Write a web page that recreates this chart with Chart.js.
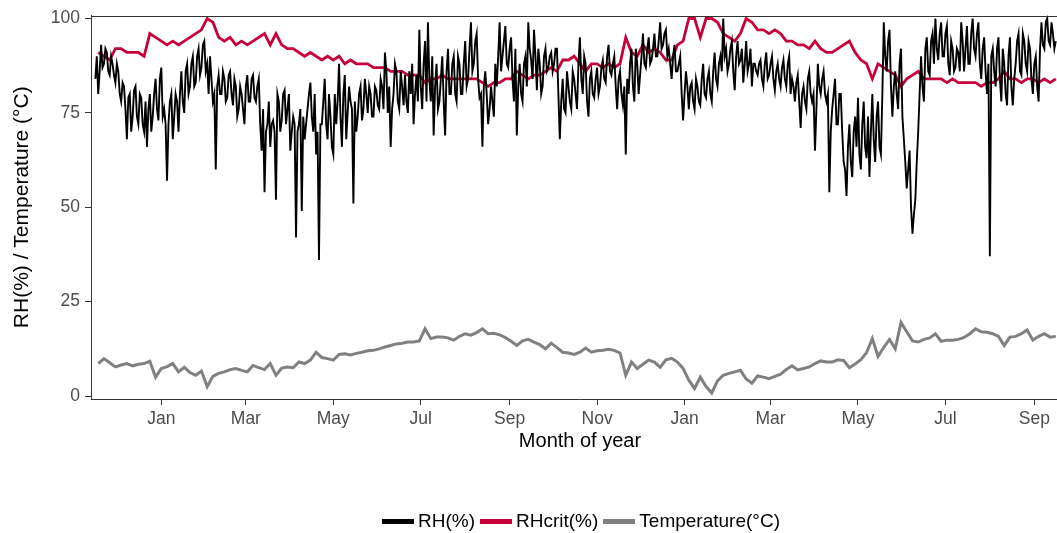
<!DOCTYPE html>
<html><head><meta charset="utf-8">
<script src="https://cdn.jsdelivr.net/npm/chart.js@4.4.1/dist/chart.umd.min.js"></script>
<style>
html,body{margin:0;padding:0;background:#fff;overflow:hidden;width:1057px;height:533px;}
#wrap{position:absolute;left:0;top:0;width:1072px;height:533px;}
#legend{position:absolute;left:382px;top:510px;height:22px;display:flex;align-items:center;font-family:'Liberation Sans',Arial,sans-serif;font-size:19px;color:#000;white-space:nowrap;}
.sw{display:inline-block;width:32px;height:5px;margin-right:4px;}
.it{display:flex;align-items:center;margin-right:5px;}
</style></head><body>
<div id="wrap"><canvas id="c" width="1072" height="533"></canvas></div>
<div id="legend"></div>
<script>
// x = days since 1 Jan 2019
// RH read at even days (from day -46) and odd days (from day -45)
const rhEvenStart = -46, rhOddStart = -45, rhStep = 2;
const rhEvenValues = [
  84, 80, 93, 88, 91, 85, 88, 83, 86, 78,
  82, 68, 80, 74, 82, 72, 79, 70, 66, 80,
  74, 84, 73, 87, 76, 57, 78, 68, 80, 70,
  86, 75, 88, 82, 90, 83, 92, 87, 94, 88,
  90, 78, 60, 85, 80, 84, 79, 86, 77, 82,
  76, 80, 72, 85, 78, 85, 78, 84, 65, 54,
  72, 66, 73, 52, 78, 73, 81, 76, 65, 74,
  42, 72, 49, 68, 76, 83, 70, 64, 36, 72,
  84, 68, 74, 64, 72, 88, 66, 85, 75, 78,
  51, 70, 80, 73, 84, 75, 80, 74, 81, 76,
  82, 91, 75, 66, 80, 86, 76, 82, 85, 75,
  80, 72, 85, 97, 76, 94, 99, 78, 69, 88,
  78, 90, 69, 92, 80, 90, 78, 88, 80, 94,
  84, 99, 88, 96, 79, 66, 86, 72, 82, 74,
  82, 99, 90, 98, 87, 95, 78, 69, 88, 78,
  90, 99, 89, 97, 81, 88, 82, 92, 87, 91,
  88, 92, 68, 84, 75, 82, 76, 84, 76, 95,
  80, 88, 74, 86, 79, 87, 82, 89, 83, 93,
  85, 90, 76, 86, 77, 64, 80, 92, 78, 88,
  85, 96, 87, 95, 89, 96, 90, 99, 93, 97,
  92, 84, 93, 86, 90, 73, 86, 76, 83, 76,
  82, 77, 88, 79, 86, 78, 91, 82, 90, 100,
  92, 88, 94, 81, 94, 89, 83, 94, 88, 82,
  88, 85, 89, 82, 91, 85, 90, 81, 88, 82,
  89, 82, 90, 84, 78, 85, 71, 82, 76, 86,
  78, 65, 88, 80, 86, 78, 54, 76, 84, 72,
  80, 62, 53, 72, 58, 74, 79, 60, 78, 63,
  58, 80, 62, 78, 64, 99, 86, 97, 74, 86,
  76, 92, 68, 55, 65, 43, 52, 70, 90, 78,
  95, 85, 96, 100, 89, 99, 90, 98, 85, 92,
  87, 91, 99, 86, 98, 88, 100, 90, 99, 84,
  95, 80, 37, 92, 82, 95, 78, 88, 77, 95,
  77, 88, 96, 85, 94, 86, 92, 80, 90, 78,
  99, 92, 100, 93, 96, 94
];
const rhOddValues = [
  90, 86, 87, 92, 86, 90, 85, 88, 80, 83,
  76, 79, 70, 81, 74, 80, 72, 78, 76, 70,
  80, 76, 84, 74, 72, 72, 80, 74, 78, 80,
  78, 86, 80, 88, 82, 90, 85, 93, 86, 80,
  84, 80, 82, 80, 86, 78, 85, 80, 84, 74,
  82, 76, 82, 78, 84, 79, 82, 72, 76, 70,
  78, 72, 70, 80, 70, 80, 72, 80, 70, 72,
  70, 76, 74, 72, 80, 74, 80, 70, 72, 78,
  72, 80, 66, 80, 78, 74, 80, 68, 82, 76,
  78, 74, 82, 76, 80, 82, 74, 82, 77, 84,
  76, 86, 82, 76, 88, 78, 86, 77, 78, 86,
  88, 80, 78, 82, 88, 78, 84, 90, 82, 76,
  84, 78, 86, 80, 88, 80, 90, 80, 88, 82,
  92, 86, 94, 84, 80, 82, 80, 76, 78, 88,
  90, 86, 94, 88, 92, 84, 92, 82, 80, 88,
  82, 92, 84, 90, 92, 80, 90, 86, 90, 86,
  92, 80, 78, 76, 86, 78, 86, 80, 88, 84,
  90, 78, 84, 80, 84, 80, 87, 84, 90, 86,
  88, 82, 84, 80, 82, 84, 88, 82, 92, 80,
  90, 88, 92, 88, 92, 90, 94, 92, 96, 90,
  88, 90, 86, 88, 80, 80, 82, 82, 78, 84,
  78, 84, 80, 84, 80, 86, 84, 88, 86, 90,
  86, 92, 86, 90, 88, 92, 88, 86, 92, 88,
  86, 88, 84, 88, 84, 88, 84, 86, 84, 87,
  84, 88, 80, 82, 83, 78, 80, 78, 84, 80,
  80, 76, 82, 84, 80, 80, 70, 80, 72, 80,
  70, 60, 66, 62, 70, 66, 64, 72, 66, 74,
  70, 68, 74, 66, 80, 90, 94, 82, 82, 80,
  88, 74, 62, 60, 50, 48, 62, 80, 82, 92,
  86, 94, 88, 92, 96, 90, 96, 88, 94, 86,
  92, 86, 94, 92, 88, 96, 92, 96, 88, 92,
  86, 88, 90, 86, 92, 84, 92, 80, 90, 82,
  84, 94, 86, 96, 88, 94, 84, 88, 82, 92,
  93, 99, 94, 99, 92
];
const critStartDay = -44, critStep = 4;
const rhCritValues = [
  91, 90, 89, 92, 92, 91, 91, 91, 90, 96,
  95, 94, 93, 94, 93, 94, 95, 96, 97, 100,
  99, 95, 94, 95, 93, 94, 93, 94, 95, 96,
  93, 96, 93, 92, 92, 91, 90, 91, 90, 89,
  90, 89, 90, 88, 89, 88, 88, 88, 87, 87,
  87, 86, 86, 86, 85, 85, 85, 83, 84, 84,
  85, 84, 84, 84, 84, 84, 84, 83, 82, 83,
  83, 84, 84, 86, 85, 84, 85, 85, 86, 87,
  86, 89, 89, 90, 88, 86, 88, 88, 87, 88,
  87, 88, 95, 91, 90, 93, 91, 92, 91, 89,
  89, 93, 94, 100, 100, 95, 100, 100, 99, 96,
  95, 94, 96, 100, 99, 97, 97, 96, 97, 96,
  94, 94, 93, 93, 92, 94, 92, 91, 91, 92,
  93, 94, 91, 89, 88, 84, 88, 87, 86, 85,
  82, 84, 85, 86, 84, 84, 84, 84, 83, 84,
  83, 83, 83, 83, 82, 83, 83, 84, 86, 84,
  84, 83, 84, 84, 83, 84, 83, 84
];
const tempStartDay = -44, tempStep = 4;
const tempValues = [
  8.6, 9.9, 8.8, 7.7, 8.2, 8.6, 8.0, 8.4, 8.6, 9.2,
  5.0, 7.3, 7.8, 8.6, 6.4, 7.6, 6.2, 5.5, 6.6, 2.5,
  5.2, 6.0, 6.4, 7.0, 7.3, 6.8, 6.4, 8.1, 7.5, 7.0,
  8.6, 5.5, 7.4, 7.7, 7.5, 9.0, 8.6, 9.5, 11.6, 10.2,
  9.9, 9.5, 11.0, 11.2, 10.9, 11.3, 11.6, 12.0, 12.1, 12.5,
  13.0, 13.4, 13.8, 14.0, 14.3, 14.3, 14.6, 17.8, 15.2, 15.6,
  15.6, 15.4, 14.8, 15.8, 16.5, 16.1, 16.8, 17.8, 16.5, 16.6,
  16.2, 15.5, 14.5, 13.4, 14.6, 15.0, 14.3, 13.6, 12.5, 14.0,
  12.8, 11.6, 11.4, 11.0, 11.6, 12.7, 11.6, 12.0, 12.1, 12.4,
  12.1, 11.4, 5.5, 9.0, 7.3, 8.4, 9.5, 9.0, 7.6, 9.6,
  10.0, 9.0, 7.3, 4.2, 2.0, 5.0, 2.5, 0.8, 4.0, 5.5,
  6.0, 6.4, 6.8, 4.5, 3.4, 5.3, 5.0, 4.6, 5.2, 5.8,
  7.0, 8.0, 6.9, 7.3, 7.7, 8.6, 9.3, 9.0, 9.0, 9.6,
  9.4, 7.5, 8.5, 9.6, 11.5, 15.2, 10.5, 12.9, 15.0, 12.5,
  19.5, 17.0, 14.6, 14.3, 15.0, 15.4, 16.5, 14.5, 14.8, 14.8,
  15.0, 15.5, 16.5, 17.8, 17.0, 16.9, 16.5, 15.8, 13.4, 15.6,
  15.8, 16.5, 17.5, 14.8, 15.8, 16.5, 15.6, 15.8
];
const tickDays = [0, 59, 120, 181, 243, 304, 365, 425, 486, 547, 609];
const tickLabels = ['Jan', 'Mar', 'May', 'Jul', 'Sep', 'Nov', 'Jan', 'Mar', 'May', 'Jul', 'Sep'];
const yTicks = [0, 25, 50, 75, 100];
const seriesNames = ['RH(%)', 'RHcrit(%)', 'Temperature(°C)'];
const seriesColors = ['#000000', '#c8003a', '#808080'];

function toPoints(start, step, vals) { return vals.map((v, i) => ({ x: start + i * step, y: v })); }
const rhPoints = toPoints(rhEvenStart, rhStep, rhEvenValues)
  .concat(toPoints(rhOddStart, rhStep, rhOddValues))
  .sort((a, b) => a.x - b.x);

const FONT = "'Liberation Sans', Arial, sans-serif";

const topBorder = {
  id: 'topBorder',
  afterDraw(chart) {
    const { ctx, chartArea: a } = chart;
    ctx.save();
    ctx.strokeStyle = '#333333';
    ctx.lineWidth = 1;
    ctx.beginPath();
    ctx.moveTo(a.left, Math.round(a.top) + 0.5);
    ctx.lineTo(a.right, Math.round(a.top) + 0.5);
    ctx.stroke();
    ctx.restore();
  }
};

new Chart(document.getElementById('c').getContext('2d'), {
  type: 'line',
  data: {
    datasets: [
      { label: seriesNames[0], data: rhPoints, borderColor: seriesColors[0], borderWidth: 1.9, pointRadius: 0, tension: 0, fill: false },
      { label: seriesNames[1], data: toPoints(critStartDay, critStep, rhCritValues), borderColor: seriesColors[1], borderWidth: 2.8, pointRadius: 0, tension: 0, fill: false },
      { label: seriesNames[2], data: toPoints(tempStartDay, tempStep, tempValues), borderColor: seriesColors[2], borderWidth: 3, pointRadius: 0, tension: 0, fill: false }
    ]
  },
  options: {
    responsive: false,
    animation: false,
    events: [],
    layout: { padding: { left: 0, right: 3, top: 12, bottom: 80 } },
    plugins: { legend: { display: false }, tooltip: { enabled: false } },
    scales: {
      x: {
        type: 'linear', min: -49.04, max: 633.2,
        afterBuildTicks: s => { s.ticks = tickDays.map(v => ({ value: v })); },
        afterFit: s => { s.height = 54; },
        ticks: { autoSkip: false, maxRotation: 0, minRotation: 0, padding: 4, color: '#4d4d4d', font: { family: FONT, size: 17.5 }, callback: (v, i) => tickLabels[i] },
        grid: { drawOnChartArea: false, drawTicks: true, tickLength: 6, color: '#333333', tickWidth: 1 },
        border: { display: true, color: '#333333', width: 1 },
        title: { display: true, text: 'Month of year', color: '#000', font: { family: FONT, size: 20 }, padding: { top: 0, bottom: 0 } }
      },
      y: {
        type: 'linear', min: -0.79, max: 100.79,
        afterBuildTicks: s => { s.ticks = yTicks.map(v => ({ value: v })); },
        afterFit: s => { s.width = 91; },
        ticks: { padding: 5, color: '#4d4d4d', font: { family: FONT, size: 17.5 }, callback: v => String(v) },
        grid: { drawOnChartArea: false, drawTicks: true, tickLength: 6, color: '#333333', tickWidth: 1 },
        border: { display: true, color: '#333333', width: 1 },
        title: { display: true, text: 'RH(%) / Temperature (°C)', color: '#000', font: { family: FONT, size: 21 }, padding: { top: 10, bottom: 0 } }
      }
    }
  },
  plugins: [topBorder]
});

const lg = document.getElementById('legend');
seriesNames.forEach((n, i) => {
  const it = document.createElement('div'); it.className = 'it';
  const sw = document.createElement('span'); sw.className = 'sw'; sw.style.background = seriesColors[i];
  const tx = document.createElement('span'); tx.textContent = n;
  it.appendChild(sw); it.appendChild(tx); lg.appendChild(it);
});
</script>
</body></html>
